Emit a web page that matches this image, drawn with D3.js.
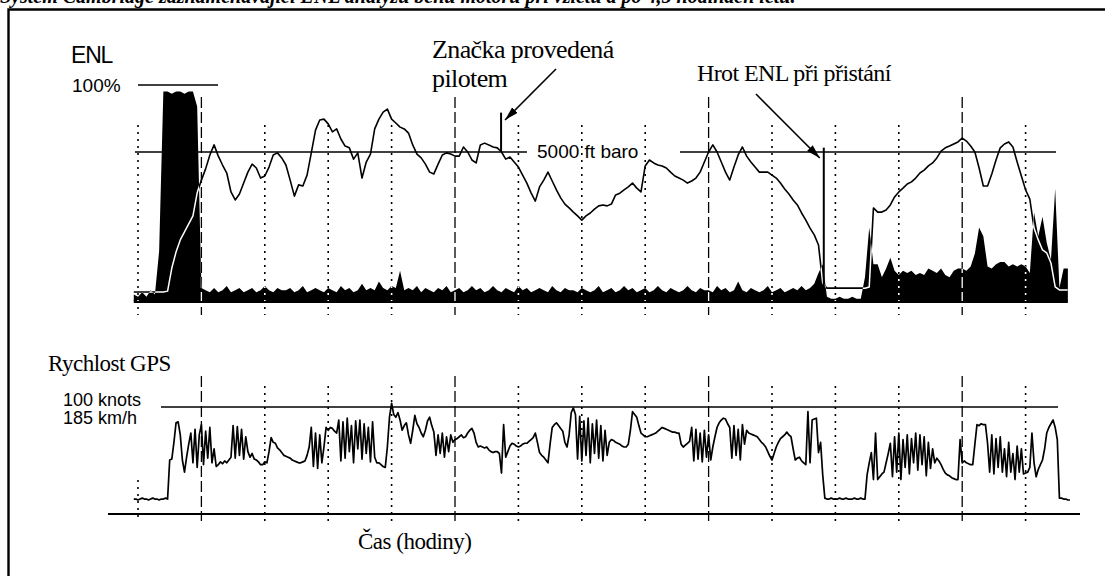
<!DOCTYPE html>
<html>
<head>
<meta charset="utf-8">
<script src="https://cdn.jsdelivr.net/npm/d3@7"></script>
<style>
  body { margin: 0; background: #fff; }
  svg { display: block; }
</style>
</head>
<body>
<div id="chart"></div>
<script>
// time is kept in minutes after 10:00, dashed lines are the full hours
const startMinute = 44;

// barograph altitude in ft, one reading per minute from startMinute
const altitudeFt = [
  270, 270, 270, 270, 270, 270, 270, 270, 300, 1080,
  1620, 2030, 2300, 2570, 2840, 3620, 4050, 4430, 4900, 5240,
  4860, 4560, 4290, 3650, 3380, 3580, 3950, 4320, 4590, 4460,
  4120, 4190, 4490, 4900, 4970, 4800, 4560, 4050, 3510, 3890,
  3850, 4220, 4970, 5740, 6080, 6110, 5950, 5680, 5780, 5440,
  5200, 5140, 4760, 4970, 4120, 4660, 4930, 5780, 6110, 6350,
  6450, 6110, 5980, 5840, 5780, 5640, 5240, 4930, 4800, 4590,
  4320, 4260, 4590, 4900, 4970, 4930, 4860, 4860, 5170, 5000,
  4730, 4630, 5240, 5300, 5240, 5170, 5140, 5000, 4760, 4830,
  4660, 4490, 4220, 3950, 3620, 3340, 3820, 4050, 4320, 4020,
  3720, 3450, 3240, 3110, 2970, 2840, 2700, 2840, 2940, 3070,
  3180, 3210, 3180, 3240, 3550, 3610, 3720, 3820, 3950, 3780,
  3650, 4530, 4730, 4630, 4560, 4530, 4460, 4320, 4190, 4120,
  4050, 3950, 4020, 4120, 4320, 4660, 5000, 5240, 5000, 4660,
  4320, 4050, 4490, 4900, 5170, 4860, 4660, 4490, 4320, 4320,
  4320, 4220, 4120, 3950, 3750, 3580, 3380, 3210, 2940, 2700,
  2430, 2200, 1860, 570, 400, 400, 400, 400, 400, 400,
  400, 400, 400, 400, 440, 3110, 2970, 2970, 3040, 3210,
  3480, 3650, 3780, 3920, 3990, 4120, 4290, 4390, 4530, 4630,
  4800, 5030, 5140, 5200, 5270, 5340, 5470, 5370, 5200, 5000,
  4460, 3850, 3850, 4260, 4730, 5140, 5270, 5340, 5170, 4660,
  4190, 3720, 3410, 2430, 2030, 1690, 1590, 1250, 440, 340,
  340, 340
];

// engine noise level in %, one reading per minute from startMinute
const enlPercent = [
  3, 2, 4, 2, 5, 3,
  23, 97, 97, 96, 97, 97, 96, 97, 97, 90,
  6, 5, 4, 6, 4, 5, 7, 4, 5, 6,
  4, 5, 6, 4, 5, 7, 5, 4, 6, 5,
  5, 6, 4, 5, 7, 4, 5, 6, 5, 4,
  6, 5, 4, 7, 5, 6, 4, 5, 8, 5,
  6, 5, 9, 6, 5, 7, 6, 14, 5, 6,
  5, 7, 4, 6, 5, 4, 6, 5, 7, 4,
  5, 6, 4, 5, 7, 5, 6, 4, 5, 7,
  5, 4, 6, 5, 4, 7, 5, 6, 4, 5,
  6, 5, 4, 7, 5, 4, 6, 5, 5, 4,
  6, 5, 4, 5, 7, 4, 5, 6, 4, 5,
  7, 5, 6, 4, 5, 6, 4, 5, 7, 5,
  4, 6, 5, 4, 5, 7, 5, 4, 6, 5,
  5, 4, 7, 5, 6, 4, 5, 9, 5, 4,
  6, 5, 4, 5, 7, 4, 5, 6, 4, 5,
  6, 5, 7, 5, 6, 8, 13, 17, 2, 1,
  1, 2, 1, 1, 2, 1, 1, 11, 34, 17,
  17, 11, 15, 20, 14, 12, 14, 13, 14, 12,
  13, 12, 15, 14, 13, 15, 12, 11, 14, 15,
  15, 14, 16, 22, 34, 30, 16, 15, 17, 18,
  18, 16, 17, 16, 17, 16, 13, 41, 30, 39,
  27, 19, 52, 6, 15, 15
];

// GPS ground speed in knots, one reading every half minute from startMinute
const speedKnots = [
  1, 1, 0, 1, 2, 1, 1, 0, 1, 2, 1, 1, 0, 1, 1, 2, 1, 43, 44, 62,
  83, 84, 70, 43, 30, 46, 60, 72, 40, 76, 35, 70, 81, 38, 74, 45, 78, 40, 55, 36,
  38, 41, 39, 42, 40, 43, 46, 80, 45, 79, 48, 76, 44, 68, 52, 46, 50, 44, 43, 41,
  38, 38, 41, 40, 52, 67, 62, 61, 56, 54, 51, 48, 47, 46, 45, 43, 42, 41, 40, 40,
  41, 42, 48, 57, 78, 36, 72, 34, 70, 40, 57, 78, 75, 78, 77, 74, 72, 86, 42, 84,
  45, 88, 52, 80, 40, 85, 55, 86, 44, 82, 50, 78, 41, 84, 46, 40, 40, 38, 36, 35,
  57, 89, 104, 92, 89, 94, 86, 75, 80, 83, 70, 61, 75, 91, 82, 78, 72, 68, 75, 85,
  89, 80, 73, 48, 70, 50, 72, 46, 68, 52, 70, 62, 65, 66, 68, 70, 67, 68, 72, 75,
  77, 72, 62, 57, 58, 57, 56, 57, 54, 52, 51, 52, 52, 50, 29, 81, 46, 52, 58, 61,
  60, 58, 57, 58, 60, 61, 61, 63, 65, 67, 72, 62, 51, 48, 46, 43, 40, 60, 78, 81,
  83, 80, 77, 74, 62, 57, 70, 94, 99, 92, 44, 90, 42, 85, 48, 88, 40, 82, 50, 86,
  45, 80, 42, 75, 48, 62, 65, 64, 62, 61, 60, 58, 57, 57, 60, 75, 95, 92, 89, 80,
  72, 70, 68, 68, 69, 70, 71, 72, 74, 76, 78, 77, 76, 75, 74, 73, 73, 72, 72, 60,
  57, 59, 61, 63, 78, 42, 76, 44, 72, 41, 75, 46, 70, 43, 57, 68, 78, 83, 86, 88,
  87, 82, 78, 45, 80, 48, 76, 43, 81, 60, 75, 72, 71, 70, 69, 68, 65, 62, 60, 57,
  52, 47, 43, 50, 57, 62, 66, 68, 70, 73, 70, 68, 55, 43, 45, 46, 42, 40, 38, 95,
  40, 86, 87, 88, 51, 62, 27, 2, 1, 1, 2, 1, 1, 1, 2, 1, 1, 2, 1, 1,
  1, 2, 1, 1, 2, 1, 1, 27, 40, 51, 22, 72, 22, 25, 28, 30, 40, 50, 61, 25,
  68, 30, 72, 22, 65, 35, 70, 28, 66, 40, 72, 32, 70, 38, 68, 26, 62, 34, 55, 40,
  45, 42, 38, 33, 29, 27, 26, 24, 23, 22, 22, 65, 40, 42, 40, 39, 38, 38, 60, 81,
  80, 82, 81, 81, 61, 30, 70, 28, 66, 35, 68, 30, 55, 25, 62, 30, 50, 22, 58, 30,
  55, 28, 29, 30, 35, 72, 40, 25, 33, 38, 43, 55, 72, 78, 82, 86, 78, 65, 2, 2,
  1, 1, 0, 0
];

// quarter-hour grid (minutes after 10:00)
const gridMinutes = [45, 60, 75, 90, 105, 120, 135, 150, 165, 180, 195, 210, 225, 240, 255];

// events
const pilotMark = { t: 130.9, fromFt: 5000, toFt: 6330 };
const landingSpike = { t: 207.25, enl: 71 };

const titleText = "Systém Cambridge zaznamenávající ENL analýzu běhu motoru při vzletu a po 4,5 hodinách letu.";

const width = 1105;
const height = 576;

const svg = d3.select('#chart').append('svg')
  .attr('width', width)
  .attr('height', height);

svg.append('rect').attr('width', width).attr('height', height).attr('fill', '#fff');

const serif = "'Liberation Serif', 'Times New Roman', serif";
const sans = "'Liberation Sans', Arial, sans-serif";

// scales
const x = d3.scaleLinear().domain([60, 240]).range([201.4, 962.2]);
const yAlt = d3.scaleLinear().domain([0, 5000]).range([300, 152]);
const yEnl = d3.scaleLinear().domain([0, 100]).range([301, 85]);
const ySpd = d3.scaleLinear().domain([0, 100]).range([500, 407]);

const altData = altitudeFt.map((v, i) => ({ t: startMinute + i, v }));
const enlData = enlPercent.map((v, i) => ({ t: startMinute + i, v }));
const spdData = speedKnots.map((v, i) => ({ t: startMinute + i * 0.5, v }));

// frame and the title, cut by the top edge as in the scan
svg.append('path')
  .attr('d', `M8.5,${height} V9.5 H${width}`)
  .attr('fill', 'none')
  .attr('stroke', '#000')
  .attr('stroke-width', 2.4);

svg.append('text')
  .attr('x', 0).attr('y', 3)
  .style('font-family', serif)
  .style('font-size', '20px')
  .style('font-weight', 'bold')
  .style('font-style', 'italic')
  .text(titleText);

const defs = svg.append('defs');
defs.append('marker')
  .attr('id', 'arrow')
  .attr('viewBox', '0 0 14 8')
  .attr('refX', 14).attr('refY', 4)
  .attr('markerWidth', 14).attr('markerHeight', 8)
  .attr('markerUnits', 'userSpaceOnUse')
  .attr('orient', 'auto')
  .append('path').attr('d', 'M0,0 L14,4 L0,8 Z').attr('fill', '#000');

const enlArea = d3.area()
  .x(d => x(d.t))
  .y0(yEnl(0))
  .y1(d => yEnl(d.v));

defs.append('clipPath').attr('id', 'enlClip')
  .append('path').attr('d', enlArea(enlData));

const altLine = d3.line().x(d => x(d.t)).y(d => yAlt(d.v));
const spdLine = d3.line().x(d => x(d.t)).y(d => ySpd(d.v));

// grid for both panels
function drawGrid(g, color, topHour, topQuarter, bottom, firstTop) {
  g.selectAll('line.grid')
    .data(gridMinutes)
    .enter().append('line')
    .attr('class', 'grid')
    .attr('x1', d => x(d)).attr('x2', d => x(d))
    .attr('y1', (d, i) => d % 60 === 0 ? topHour : (i === 0 && firstTop ? firstTop : topQuarter))
    .attr('y2', bottom)
    .attr('stroke', color)
    .attr('stroke-width', d => d % 60 === 0 ? 1.3 : 1.6)
    .attr('stroke-dasharray', d => d % 60 === 0 ? '11,4' : '2,5');
}

const topPanel = svg.append('g');
const bottomPanel = svg.append('g');

drawGrid(topPanel, '#000', 97, 125, 315);
drawGrid(bottomPanel, '#000', 376, 386, 521, 480);

// ---- upper panel: ENL + altitude ----
topPanel.append('path')
  .attr('d', enlArea(enlData))
  .attr('fill', '#000');

topPanel.append('line')
  .attr('x1', x(startMinute)).attr('x2', x(startMinute + enlPercent.length - 1))
  .attr('y1', yEnl(0) + 0.5).attr('y2', yEnl(0) + 0.5)
  .attr('stroke', '#000').attr('stroke-width', 3);

// reference lines
topPanel.append('line')
  .attr('x1', 138).attr('x2', 218)
  .attr('y1', yEnl(100)).attr('y2', yEnl(100))
  .attr('stroke', '#000').attr('stroke-width', 1.5);

topPanel.append('line')
  .attr('x1', 135).attr('x2', 527)
  .attr('y1', yAlt(5000)).attr('y2', yAlt(5000))
  .attr('stroke', '#000').attr('stroke-width', 1.6);
topPanel.append('line')
  .attr('x1', 680).attr('x2', 1056)
  .attr('y1', yAlt(5000)).attr('y2', yAlt(5000))
  .attr('stroke', '#000').attr('stroke-width', 1.6);

topPanel.append('path')
  .datum(altData)
  .attr('d', altLine)
  .attr('fill', 'none')
  .attr('stroke', '#000')
  .attr('stroke-width', 1.6)
  .attr('stroke-linejoin', 'round');

// where trace and grid cross the black ENL fill they show white
const inverse = topPanel.append('g').attr('clip-path', 'url(#enlClip)');
drawGrid(inverse, '#fff', 97, 125, 315);
inverse.append('path')
  .datum(altData)
  .attr('d', altLine)
  .attr('fill', 'none')
  .attr('stroke', '#fff')
  .attr('stroke-width', 1.5)
  .attr('stroke-linejoin', 'round');

// pilot event mark and landing ENL spike
topPanel.append('line')
  .attr('x1', x(pilotMark.t)).attr('x2', x(pilotMark.t))
  .attr('y1', yAlt(pilotMark.fromFt)).attr('y2', yAlt(pilotMark.toFt))
  .attr('stroke', '#000').attr('stroke-width', 2);

topPanel.append('line')
  .attr('x1', x(landingSpike.t)).attr('x2', x(landingSpike.t))
  .attr('y1', yEnl(0)).attr('y2', yEnl(landingSpike.enl))
  .attr('stroke', '#000').attr('stroke-width', 2);

// labels
topPanel.append('text')
  .attr('x', 71).attr('y', 63)
  .style('font-family', sans).style('font-size', '23px')
  .style('letter-spacing', '-1.2px')
  .text('ENL');

topPanel.append('text')
  .attr('x', 72).attr('y', 92)
  .style('font-family', sans).style('font-size', '19px')
  .text('100%');

topPanel.append('text')
  .attr('x', 537).attr('y', 158)
  .style('font-family', sans).style('font-size', '19px')
  .text('5000 ft baro');

topPanel.append('text')
  .attr('x', 432).attr('y', 58)
  .style('font-family', serif).style('font-size', '26px')
  .style('letter-spacing', '-0.6px')
  .text('Značka provedená');

topPanel.append('text')
  .attr('x', 432).attr('y', 87)
  .style('font-family', serif).style('font-size', '26px')
  .style('letter-spacing', '-0.6px')
  .text('pilotem');

topPanel.append('text')
  .attr('x', 697).attr('y', 81)
  .style('font-family', serif).style('font-size', '24px')
  .style('letter-spacing', '-0.6px')
  .text('Hrot ENL při přistání');

// annotation arrows
topPanel.append('line')
  .attr('x1', 556).attr('y1', 69)
  .attr('x2', x(pilotMark.t) + 4).attr('y2', 120)
  .attr('stroke', '#000').attr('stroke-width', 1.6)
  .attr('marker-end', 'url(#arrow)');

topPanel.append('line')
  .attr('x1', 756).attr('y1', 94)
  .attr('x2', x(landingSpike.t) - 4).attr('y2', 158)
  .attr('stroke', '#000').attr('stroke-width', 1.6)
  .attr('marker-end', 'url(#arrow)');

// ---- lower panel: GPS speed ----
bottomPanel.append('line')
  .attr('x1', 161).attr('x2', 1058)
  .attr('y1', ySpd(100)).attr('y2', ySpd(100))
  .attr('stroke', '#000').attr('stroke-width', 1.6);

bottomPanel.append('line')
  .attr('x1', 108).attr('x2', 1080)
  .attr('y1', 514).attr('y2', 514)
  .attr('stroke', '#000').attr('stroke-width', 2);

bottomPanel.append('path')
  .datum(spdData)
  .attr('d', spdLine)
  .attr('fill', 'none')
  .attr('stroke', '#000')
  .attr('stroke-width', 1.7)
  .attr('stroke-linejoin', 'round');

bottomPanel.append('text')
  .attr('x', 48).attr('y', 371)
  .style('font-family', serif).style('font-size', '23px')
  .style('letter-spacing', '-0.5px')
  .text('Rychlost GPS');

bottomPanel.append('text')
  .attr('x', 63).attr('y', 406)
  .style('font-family', sans).style('font-size', '18px')
  .text('100 knots');

bottomPanel.append('text')
  .attr('x', 63).attr('y', 424)
  .style('font-family', sans).style('font-size', '18px')
  .text('185 km/h');

bottomPanel.append('text')
  .attr('x', 358).attr('y', 549)
  .style('font-family', serif).style('font-size', '23px')
  .style('letter-spacing', '-0.5px')
  .text('Čas (hodiny)');
</script>
</body>
</html>
